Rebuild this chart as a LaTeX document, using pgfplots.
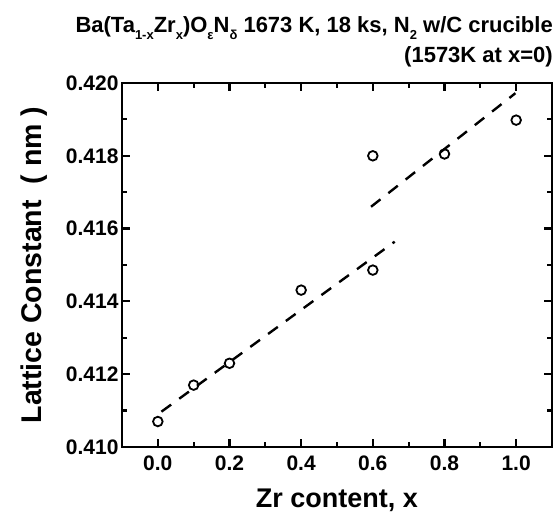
\documentclass[border=0pt]{standalone}
\usepackage{fontspec}
\setmainfont{Liberation Sans}
\usepackage{pgfplots}
\pgfplotsset{compat=1.18}
\usetikzlibrary{calc}
\newcommand\sub[1]{\raisebox{-0.55ex}{\fontsize{13}{13}\selectfont #1}}
\begin{document}
\begin{tikzpicture}
\begin{axis}[
  name=ax,
  scale only axis,
  width=430pt, height=364pt,
  xmin=-0.1, xmax=1.1,
  ymin=0.410, ymax=0.420,
  xtick={0,0.2,0.4,0.6,0.8,1.0},
  ytick={0.410,0.412,0.414,0.416,0.418,0.420},
  minor x tick num=1,
  minor y tick num=1,
  scaled y ticks=false,
  scaled x ticks=false,
  tick align=inside,
  major tick length=8pt,
  minor tick length=5pt,
  every tick/.style={line width=2.2pt, black},
  axis line style={line width=2.6pt},
  /pgf/number format/assume math mode=true,
  xticklabel style={/pgf/number format/.cd, fixed, fixed zerofill, precision=1},
  yticklabel style={/pgf/number format/.cd, fixed, fixed zerofill, precision=3},
  tick label style={font=\fontsize{21}{21}\selectfont\bfseries},
  xticklabel shift=5pt,
  xlabel={Zr content, x},
  ylabel={Lattice Constant\ \ ( nm )},
  xlabel shift=12pt,
  ylabel shift=12pt,
  xlabel style={font=\fontsize{27}{27}\selectfont\bfseries},
  ylabel style={font=\fontsize{28.5}{28.5}\selectfont\bfseries},
  clip=false,
]
\addplot[only marks, mark=o, mark size=4.8pt, mark options={line width=1.8pt, black}]
  coordinates {(0,0.41070) (0.1,0.41170) (0.2,0.41230) (0.4,0.41431) (0.6,0.41486) (0.6,0.41800) (0.8,0.41805) (1.0,0.41898)};
\addplot[black, line width=2.4pt, dash pattern=on 12pt off 10pt]
  coordinates {(0.01,0.41097) (0.661,0.41564)};
\addplot[black, line width=2.4pt, dash pattern=on 12pt off 10pt]
  coordinates {(0.595,0.41660) (0.998,0.41972)};
\end{axis}
\node[anchor=base east, font=\fontsize{22}{22}\selectfont\bfseries, inner sep=0pt]
  at ($(ax.north east)+(1pt,50pt)$)
  {Ba(Ta\sub{1-x}Zr\sub{x})O\sub{ε}N\sub{δ} 1673 K, 18 ks, N\sub{2} w/C crucible};
\node[anchor=base east, font=\fontsize{22}{22}\selectfont\bfseries, inner sep=0pt]
  at ($(ax.north east)+(1pt,20pt)$)
  {(1573K at x=0)};
\pgfresetboundingbox
\path ($(ax.south west)+(-122pt,-70pt)$) rectangle ($(ax.north east)+(3pt,83pt)$);
\end{tikzpicture}
\end{document}
